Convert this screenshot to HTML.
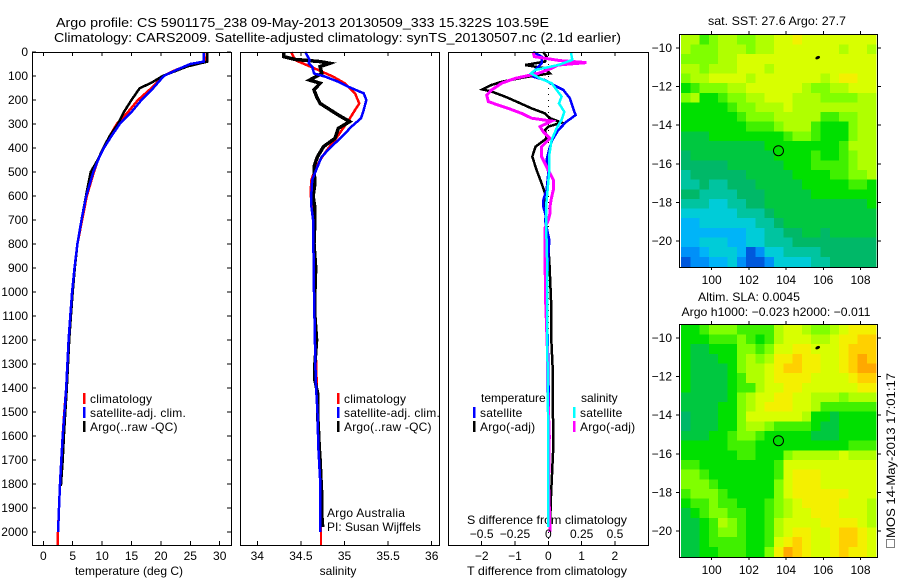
<!DOCTYPE html>
<html lang="en">
<head>
<meta charset="utf-8">
<title>Argo profile</title>
<style>
html,body{margin:0;padding:0;background:#fff;width:900px;height:580px;overflow:hidden}
svg{display:block}
text{font-family:"Liberation Sans",sans-serif;font-size:12px;fill:#000}
.t{font-size:13px}
</style>
</head>
<body>
<svg id="fig" xmlns="http://www.w3.org/2000/svg" width="900" height="580" viewBox="0 0 900 580">
<text class="t" x="56" y="27" textLength="493" lengthAdjust="spacingAndGlyphs">Argo profile: CS 5901175_238 09-May-2013 20130509_333 15.322S 103.59E</text>
<text class="t" x="54" y="42" textLength="567" lengthAdjust="spacingAndGlyphs">Climatology: CARS2009. Satellite-adjusted climatology: synTS_20130507.nc (2.1d earlier)</text>

<text x="129" y="575" text-anchor="middle">temperature (deg C)</text>
<text x="338" y="575" text-anchor="middle">salinity</text>
<text x="547" y="575" text-anchor="middle" textLength="160" lengthAdjust="spacingAndGlyphs">T difference from climatology</text>
<text x="547" y="524" text-anchor="middle" textLength="160" lengthAdjust="spacingAndGlyphs">S difference from climatology</text>

<text x="777" y="25" text-anchor="middle" textLength="138" lengthAdjust="spacingAndGlyphs">sat. SST: 27.6 Argo: 27.7</text>
<text x="749" y="301" text-anchor="middle" textLength="102" lengthAdjust="spacingAndGlyphs">Altim. SLA: 0.0045</text>
<text x="776" y="316" text-anchor="middle" textLength="189" lengthAdjust="spacingAndGlyphs">Argo h1000: −0.023 h2000: −0.011</text>

<rect x="886.5" y="539.5" width="8" height="8" fill="none" stroke="#000" stroke-width="1" stroke-dasharray="1 1"/>
<text transform="translate(895,538) rotate(-90)" textLength="165" lengthAdjust="spacingAndGlyphs">MOS 14-May-2013 17:01:17</text>
</svg>

<script>
// ---------- Temperature panel data ----------
const tempClimDepth = [0,40,50,75,100,150,200,250,300,350,400,450,500,600,700,800,900,1000,1100,1200,1300,1400,1500,1600,1700,1800,1900,2000,2054];
const tempClimValue = [27.8,27.7,25.2,22.5,20.4,18.4,16.1,14.4,12.5,11.3,10.2,9.3,8.6,7.4,6.6,5.8,5.3,4.9,4.6,4.3,4.1,3.9,3.57,3.3,3.06,2.84,2.67,2.5,2.45];
const tempSatDepth = [0,40,50,75,100,150,200,250,300,350,400,450,500,600,700,800,900,1000,1100,1200,1300,1400,1500,1600,1700,1800,1900,2000];
const tempSatValue = [27.3,27.3,25,22.6,20.5,18.7,16.7,15,13,11.6,10.3,9.3,8.5,7.3,6.5,5.8,5.3,4.9,4.6,4.3,4.1,3.9,3.6,3.3,3.06,2.84,2.67,2.52];
const tempArgoDepth = [0,40,60,100,128,151,200,250,300,350,400,450,500,600,700,800,900,1000,1100,1200,1300,1400,1500,1600,1700,1808];
const tempArgoValue = [27.9,27.9,24.5,20.3,18.4,16.4,15,13.7,12.7,11.3,10.2,9.25,8.06,7.26,6.5,5.8,5.35,5,4.7,4.4,4.2,4,3.75,3.5,3.3,3];
const tempTicks = [0,5,10,15,20,25,30];
const depthTicks = [0,100,200,300,400,500,600,700,800,900,1000,1100,1200,1300,1400,1500,1600,1700,1800,1900,2000];

// ---------- Salinity panel data ----------
const salClimDepth = [0,33,47,75,103,130,172,214,242,283,325,367,408,450,492,533,589,644,700,1000,1367,1504,1644,1783,2000,2054];
const salClimValue = [34.39,34.43,34.52,34.7,34.87,35,35.12,35.17,35.12,35.05,34.97,34.89,34.8,34.72,34.66,34.62,34.61,34.63,34.64,34.65,34.68,34.69,34.71,34.72,34.73,34.73];
const salSatDepth = [0,33,47,61,89,103,124,144,172,200,242,276,311,353,394,436,478,533,589,644,700,1000,1367,1504,1644,1783,2000];
const salSatValue = [34.55,34.6,34.59,34.63,34.65,34.78,34.93,35.04,35.22,35.25,35.22,35.19,35.08,34.97,34.85,34.74,34.69,34.63,34.62,34.62,34.64,34.65,34.67,34.69,34.7,34.72,34.72];
const salArgoDepth = [0,19,31,40,47,61,89,117,130,158,186,214,235,263,290,318,360,394,436,478,550,600,650,700,800,900,1000,1100,1200,1300,1367,1420,1504,1560,1644,1700,1783,1850,1930,1979];
const salArgoValue = [34.3,34.3,34.43,34.72,34.83,34.72,34.74,34.6,34.72,34.65,34.68,34.72,34.81,34.93,35.06,34.93,34.89,34.76,34.69,34.65,34.66,34.64,34.66,34.66,34.65,34.67,34.66,34.66,34.68,34.66,34.66,34.69,34.69,34.7,34.71,34.72,34.73,34.74,34.74,34.75];
const salTicks = [34,34.5,35,35.5,36];

// ---------- Difference panel data ----------
const diffTempSatDepth = [0,19,47,75,103,117,137,158,193,228,263,290,325,367,408,450,506,575,617,644,686,700,783,900,1033,1300,1600,1980];
const diffTempSatValue = [-0.45,-0.2,-0.2,-0.4,-0.45,-0.1,0.15,0.45,0.65,0.73,0.82,0.55,0.3,0.12,0.02,-0.05,0,-0.05,-0.15,-0.15,-0.07,-0.1,0.03,-0.02,-0.05,0,0.02,0.02];
const diffSalSatDepth = [0,33,54,75,89,110,130,158,186,214,249,283,318,367,436,506,575,644,700,900,1200,1500,1980];
const diffSalSatValue = [0.68,0.72,0.3,-0.4,-0.52,-0.25,0.1,0.25,0.4,0.32,0.48,0.4,0.25,0.1,0.02,0.02,-0.02,-0.07,-0.07,-0.03,-0.03,-0.01,0];
const diffSalArgoDepth = [0,19,36,44,54,68,89,110,130,158,179,207,235,256,276,288,311,332,360,394,436,478,533,575,617,644,672,700,733,850,1033,1229,1400,1600,1800,2000];
const diffSalArgoValue = [-0.45,-0.42,0.35,1.15,0.3,0.1,-0.3,-1,-1.4,-1.7,-1.85,-1.8,-1.2,-0.8,-0.5,0.1,-0.25,-0.15,0.05,-0.2,-0.2,-0.05,0.15,0.15,0.08,0.05,0.05,0,-0.1,-0.1,-0.08,-0.03,-0.02,0.03,0.01,0.05];
const diffTempArgoDepth = [0,19,40,54,68,89,105,124,137,156,165,186,207,235,256,276,294,311,325,360,394,436,492,547,589,700,867,1033,1171,1312,1367,1644,1850,1979];
const diffTempArgoValue = [-0.15,-0.05,-0.1,-0.7,-0.1,0.05,-0.7,-1.4,-1.7,-1.98,-1.7,-1.3,-0.95,-0.5,-0.1,0.05,0.4,0,-0.1,-0.05,-0.38,-0.48,-0.35,-0.2,-0.1,-0.07,0.03,0.08,0.08,0.13,0.13,0.15,0.08,0.05];
const diffTempTicks = [-2,-1,0,1,2];
const diffSalTicks = [-0.5,-0.25,0,0.25,0.5];
const diffSalTickLabels = ['−0.5','−0.25','0','0.25','0.5'];

// ---------- Map data (colour level per 0.5 degree cell, north to south) ----------
const mapLonTicks = [100,102,104,106,108];
const mapLatTicks = [-10,-12,-14,-16,-18,-20];
const floatPosition = [103.59,-15.322];
const nearbyFloat = [105.7,-10.5];
const sstLevels = [
[10,10,8,9,10,10,9,9,10,10,11,11,12,11,11,11,11,11,11,11,11],
[10,9,9,9,10,10,10,9,10,10,11,11,11,11,11,11,11,10,11,11,10],
[9,9,9,9,10,10,11,11,11,11,11,11,11,11,11,11,11,11,11,11,11],
[10,10,9,10,10,10,11,11,11,10,11,11,11,11,11,11,11,11,11,11,11],
[9,10,10,11,11,11,11,10,11,11,11,11,11,11,11,10,11,12,12,11,11],
[7,8,9,9,9,10,10,11,11,11,11,11,11,10,9,9,10,10,11,11,11],
[9,10,7,7,8,9,9,10,10,11,11,11,10,10,10,9,9,9,9,10,10],
[7,7,7,7,7,8,9,9,10,10,10,11,10,10,10,10,10,10,10,10,10],
[7,7,7,7,7,7,8,9,9,9,10,10,10,10,10,8,8,9,9,10,10],
[7,7,7,7,7,7,7,8,8,8,9,10,10,10,8,7,7,7,9,10,10],
[6,6,6,7,7,7,7,7,7,7,7,8,9,9,8,7,7,7,9,10,10],
[6,6,6,6,6,6,6,6,6,7,7,7,7,7,7,7,7,8,10,10,10],
[5,6,6,6,6,6,6,6,6,6,7,7,7,7,8,7,7,8,9,10,10],
[5,5,5,5,5,6,6,6,6,6,6,7,7,7,8,8,8,8,9,10,10],
[4,5,5,5,5,5,5,6,6,6,6,6,7,7,7,7,8,8,9,9,10],
[4,4,5,4,4,5,5,5,6,6,6,6,6,7,7,7,7,7,8,8,7],
[5,5,4,4,4,4,5,5,5,6,6,6,6,6,7,7,7,7,7,7,7],
[4,4,4,3,3,4,4,5,5,6,6,6,6,6,6,6,6,6,6,6,7],
[3,3,3,3,3,3,4,4,4,5,6,6,6,6,6,6,6,6,6,6,6],
[2,2,3,3,3,3,3,3,4,4,5,6,6,6,6,6,6,6,6,6,6],
[2,2,2,2,2,2,2,3,3,4,4,5,5,6,6,5,6,6,6,6,6],
[2,2,3,3,3,2,2,3,3,4,4,4,5,5,5,5,5,5,5,5,5],
[1,1,2,3,3,3,2,0,1,3,3,4,4,4,4,5,5,5,5,5,5],
[0,1,1,2,2,3,1,0,0,1,3,3,3,3,4,4,5,5,5,5,5]
];
const slaLevels = [
[7,7,8,9,9,9,8,8,8,8,10,11,11,10,9,9,10,11,12,12,12],
[7,7,7,8,8,8,9,8,7,8,10,11,11,11,10,10,11,12,12,13,13],
[7,6,6,7,7,7,9,9,8,9,11,11,12,12,11,11,11,12,13,13,13],
[7,6,6,6,7,7,9,10,9,10,12,12,13,12,12,11,11,12,13,14,13],
[7,6,6,6,6,7,9,10,10,11,12,13,13,12,12,11,11,12,13,14,14],
[7,6,6,6,6,7,8,10,10,11,12,12,12,12,11,11,11,11,12,13,13],
[7,6,6,6,6,7,8,8,10,11,11,12,12,11,11,11,11,11,11,12,12],
[6,6,6,6,6,7,9,10,11,11,12,12,11,11,10,10,10,9,10,10,10],
[6,6,6,6,7,7,9,10,11,12,12,12,11,11,10,8,8,8,8,8,8],
[5,6,6,6,7,7,9,11,11,11,11,11,11,10,7,7,6,7,7,7,7],
[5,6,6,6,7,7,9,10,10,9,8,8,8,8,7,6,6,7,7,7,7],
[6,6,6,7,7,8,9,9,8,7,7,7,7,7,6,6,6,7,7,7,7],
[7,7,7,7,7,8,8,8,7,7,7,7,7,7,7,7,7,7,8,8,8],
[7,7,7,7,7,7,8,8,7,7,7,9,10,10,10,10,10,11,10,10,10],
[8,8,7,7,7,7,7,7,7,7,8,11,11,11,11,11,11,11,11,11,11],
[9,9,8,7,7,7,7,7,7,7,8,11,12,12,12,11,11,11,11,11,11],
[9,9,9,8,7,7,7,7,7,7,9,11,12,12,12,11,11,11,11,11,11],
[8,9,9,9,8,7,7,7,7,7,9,11,12,12,12,12,12,12,11,11,11],
[7,8,8,9,8,8,7,7,7,8,9,10,11,12,12,12,12,11,11,11,10],
[6,7,8,9,9,8,8,7,7,8,9,10,11,11,12,12,12,11,11,11,10],
[6,6,7,8,10,9,8,7,7,8,10,11,11,11,11,12,12,12,12,11,10],
[6,6,7,8,9,9,8,7,7,8,10,11,12,12,11,11,12,13,13,12,11],
[6,6,7,8,8,8,8,7,7,8,11,12,13,12,11,11,12,13,13,12,11],
[6,6,7,7,8,8,8,7,7,9,12,14,13,12,11,11,12,13,12,12,11]
];

// ---------- Drawing ----------
const NS = 'http://www.w3.org/2000/svg';
const fig = document.getElementById('fig');
const levelColors = ['#0058dc','#0090f8','#00b4f8','#00ccd8','#00c4a0','#00b868','#00c840','#00e000','#40f000','#80ff00','#b0ff00','#d8ff00','#f4f000','#ffd000','#ffa800'];

const depthY = d => 52 + 0.24 * d;
const tempX = v => 43.3 + 5.88 * v;
const salX = v => 257.3 + 87.2 * (v - 34);
const diffTX = v => 548.3 + 33.3 * v;
const diffSX = v => 548.3 + 133.3 * v;
const lonX = v => 711.7 + 18.6 * (v - 100);
const latY = (v, top) => top + 14 + 19.3 * (-10 - v);

function make(tag, attrs, name, parent) {
  const el = document.createElementNS(NS, tag);
  for (const k in attrs) el.setAttribute(k, attrs[k]);
  
  
  (parent || fig).appendChild(el);
  return el;
}
function label(str, x, y, anchor, name) {
  const el = make('text', {x: x, y: y, 'text-anchor': anchor}, name);
  el.textContent = str;
  return el;
}
function tick(x1, y1, x2, y2, name) {
  make('line', {x1: x1, y1: y1, x2: x2, y2: y2, stroke: '#000', 'stroke-width': 1, 'shape-rendering': 'crispEdges'}, name);
}
function frame(x, y, w, h, name) {
  make('rect', {x: x + 0.5, y: y + 0.5, width: w, height: h, fill: 'none', stroke: '#000', 'stroke-width': 1, 'shape-rendering': 'crispEdges'}, name);
}
function profile(depths, values, xf, color, name, width) {
  const pts = depths.map((d, i) => xf(values[i]).toFixed(1) + ',' + depthY(d).toFixed(1)).join(' ');
  make('polyline', {points: pts, fill: 'none', stroke: color, 'stroke-width': width || 2.5, 'stroke-linejoin': 'miter', 'shape-rendering': 'crispEdges'}, name);
}
function legendEntry(x, y, color, str, name) {
  make('rect', {x: x, y: y, width: 2.5, height: 11, fill: color, 'shape-rendering': 'crispEdges'}, name + '-swatch');
  label(str, x + 7, y + 10, 'start', name).setAttribute('letter-spacing', '0.2');
}

// Profile panels
const PT = 52, PB = 545;
function xTicks(ticks, xf, name) {
  ticks.forEach(v => {
    tick(xf(v), PB, xf(v), PB - 4, name + '-tick-bottom');
    tick(xf(v), PT, xf(v), PT + 4, name + '-tick-top');
  });
}

// Panel 1
profile(tempClimDepth, tempClimValue, tempX, '#ff0000', 'temperature-climatology-line');
profile(tempArgoDepth, tempArgoValue, tempX, '#000000', 'temperature-argo-line');
profile(tempSatDepth, tempSatValue, tempX, '#0000ff', 'temperature-satellite-line');
frame(32, PT, 199, PB - PT, 'temperature-panel-frame');
xTicks(tempTicks, tempX, 'temperature');
tempTicks.forEach(v => label(String(v), tempX(v), 560, 'middle', 'temperature-tick-label'));
depthTicks.forEach(d => {
  tick(32, depthY(d), 36, depthY(d), 'depth-tick-left');
  tick(231, depthY(d), 227, depthY(d), 'depth-tick-right');
  label(String(d), 28, depthY(d) + 4, 'end', 'depth-tick-label');
});
legendEntry(83, 393, '#ff0000', 'climatology', 'temperature-legend-climatology');
legendEntry(83, 407, '#0000ff', 'satellite-adj. clim.', 'temperature-legend-satellite');
legendEntry(83, 421, '#000000', 'Argo(..raw -QC)', 'temperature-legend-argo');

// Panel 2
profile(salClimDepth, salClimValue, salX, '#ff0000', 'salinity-climatology-line');
profile(salArgoDepth, salArgoValue, salX, '#000000', 'salinity-argo-line', 3.5);
profile(salSatDepth, salSatValue, salX, '#0000ff', 'salinity-satellite-line');
frame(240, PT, 199, PB - PT, 'salinity-panel-frame');
xTicks(salTicks, salX, 'salinity');
salTicks.forEach(v => label(String(v), salX(v), 560, 'middle', 'salinity-tick-label'));
legendEntry(337, 393, '#ff0000', 'climatology', 'salinity-legend-climatology');
legendEntry(337, 407, '#0000ff', 'satellite-adj. clim.', 'salinity-legend-satellite');
legendEntry(337, 421, '#000000', 'Argo(..raw -QC)', 'salinity-legend-argo');
label('Argo Australia', 327, 517, 'start', 'argo-australia-note').setAttribute('letter-spacing', '0.25');
label('PI: Susan Wijffels', 327, 531, 'start', 'principal-investigator-note');

// Panel 3
make('line', {x1: diffTX(0), y1: PT, x2: diffTX(0), y2: PB, stroke: '#000', 'stroke-width': 1, 'stroke-dasharray': '1 5', 'shape-rendering': 'crispEdges'}, 'zero-difference-line');
profile(diffTempArgoDepth, diffTempArgoValue, diffTX, '#000000', 'difference-temperature-argo-line');
profile(diffTempSatDepth, diffTempSatValue, diffTX, '#0000ff', 'difference-temperature-satellite-line');
profile(diffSalArgoDepth, diffSalArgoValue, diffTX, '#ff00ff', 'difference-salinity-argo-line', 3);
profile(diffSalSatDepth, diffSalSatValue, diffTX, '#00ffff', 'difference-salinity-satellite-line');
frame(448, PT, 200, PB - PT, 'difference-panel-frame');
xTicks(diffTempTicks, diffTX, 'difference');
diffTempTicks.forEach(v => label(String(v).replace('-', '−'), diffTX(v), 560, 'middle', 'difference-t-tick-label'));
diffSalTicks.forEach((v, i) => label(diffSalTickLabels[i], diffSX(v), 538, 'middle', 'difference-s-tick-label'));
label('temperature', 481, 402, 'start', 'difference-legend-temperature-heading');
legendEntry(473, 407, '#0000ff', 'satellite', 'difference-legend-temperature-satellite');
legendEntry(473, 421, '#000000', 'Argo(-adj)', 'difference-legend-temperature-argo');
label('salinity', 581, 402, 'start', 'difference-legend-salinity-heading');
legendEntry(573, 407, '#00ffff', 'satellite', 'difference-legend-salinity-satellite');
legendEntry(573, 421, '#ff00ff', 'Argo(-adj)', 'difference-legend-salinity-argo');

// Maps
function drawMap(levels, top, prefix) {
  const bottom = top + 233;
  levels.forEach((row, r) => {
    row.forEach((lv, c) => {
      const lon = 98.35 + 0.5 * c;
      const lat = -9.32 - 0.5 * r;
      const x0 = lonX(lon), x1 = lonX(lon + 0.5);
      const y0 = latY(lat, top), y1 = latY(lat - 0.5, top);
      make('rect', {x: x0.toFixed(2), y: y0.toFixed(2), width: (x1 - x0 + 0.4).toFixed(2), height: (y1 - y0 + 0.4).toFixed(2), fill: levelColors[lv], 'shape-rendering': 'crispEdges'}, prefix + '-cell');
    });
  });
  frame(679, top, 198, 233, prefix + '-frame');
  mapLonTicks.forEach(v => {
    tick(lonX(v), top, lonX(v), top - 3, prefix + '-lon-tick-top');
    tick(lonX(v), bottom, lonX(v), bottom + 3, prefix + '-lon-tick-bottom');
    label(String(v), lonX(v), bottom + 17, 'middle', prefix + '-lon-label');
  });
  mapLatTicks.forEach(v => {
    const y = latY(v, top);
    tick(679, y, 676, y, prefix + '-lat-tick-left');
    tick(878, y, 881, y, prefix + '-lat-tick-right');
    label(String(v).replace('-', '−'), 672, y + 4, 'end', prefix + '-lat-label');
  });
  make('circle', {cx: lonX(floatPosition[0]), cy: latY(floatPosition[1], top), r: 5, fill: 'none', stroke: '#000', 'stroke-width': 1}, prefix + '-float-marker');
  make('ellipse', {cx: lonX(nearbyFloat[0]), cy: latY(nearbyFloat[1], top), rx: 2.5, ry: 1.5, fill: '#000', transform: 'rotate(-25 ' + lonX(nearbyFloat[0]) + ' ' + latY(nearbyFloat[1], top) + ')'}, prefix + '-nearby-float-marker');
}
drawMap(sstLevels, 34, 'sst-map');
drawMap(slaLevels, 324, 'sla-map');
</script>
</body>
</html>
